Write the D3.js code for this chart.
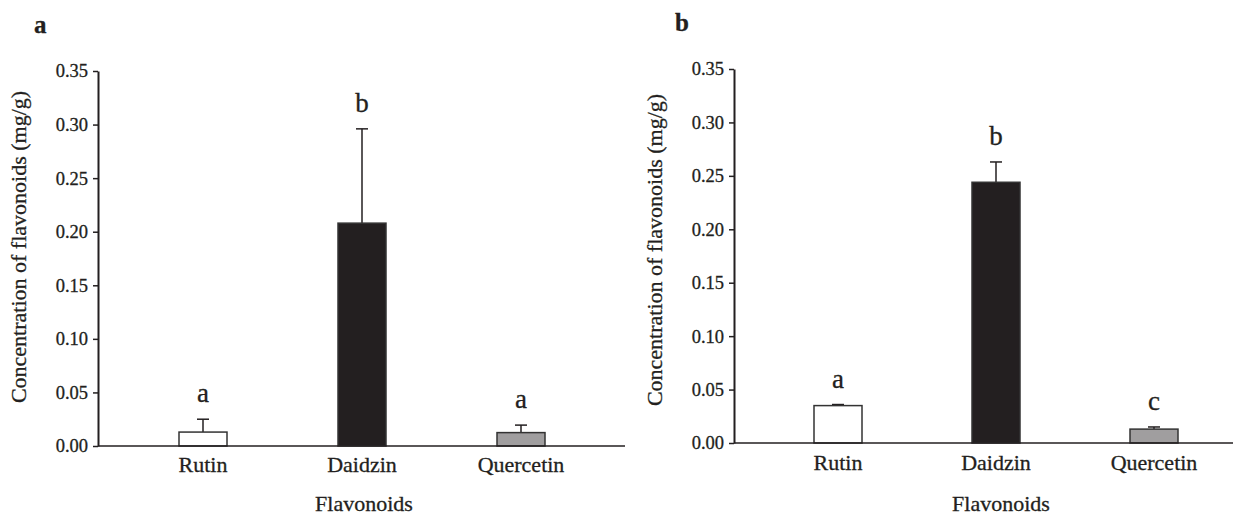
<!DOCTYPE html>
<html>
<head>
<meta charset="utf-8">
<script src="https://cdn.jsdelivr.net/npm/d3@7"></script>
<style>
  html, body { margin: 0; padding: 0; background: #fff; }
  svg { display: block; }
  text { font-family: "Liberation Serif", "Times New Roman", serif; fill: #231f20; stroke: #231f20; stroke-width: 0.3px; }
</style>
</head>
<body>
<svg id="chart" width="1248" height="515"></svg>
<script>
// ---- data ----
const categories = ["Rutin", "Daidzin", "Quercetin"];
const valuesA = [0.013, 0.208, 0.0125];
const errorsA = [0.012, 0.088, 0.007];
const lettersA = ["a", "b", "a"];
const valuesB = [0.035, 0.244, 0.013];
const errorsB = [0.001, 0.019, 0.002];
const lettersB = ["a", "b", "c"];
const barColors = ["#ffffff", "#231f20", "#a09e9f"];
const yTicks = [0, 0.05, 0.10, 0.15, 0.20, 0.25, 0.30, 0.35];
const yTitle = "Concentration of flavonoids (mg/g)";
const xTitle = "Flavonoids";
const panelLabels = ["a", "b"];

const svg = d3.select("#chart");

function panel(opts) {
  const g = svg.append("g");
  const y = d3.scaleLinear().domain([0, 0.35]).range([opts.y0, opts.y1]);
  const x = d3.scalePoint().domain(categories).range([opts.c0, opts.c1]).padding(0);
  const bw = 48;

  opts.values.forEach((v, i) => {
    const cx = x(categories[i]);
    const top = y(v);
    const errTop = y(v + opts.errors[i]);
    g.append("line")
      .attr("x1", cx).attr("x2", cx)
      .attr("y1", top).attr("y2", errTop)
      .attr("stroke", "#231f20").attr("stroke-width", 1.5);
    g.append("line")
      .attr("x1", cx - 6).attr("x2", cx + 6)
      .attr("y1", errTop).attr("y2", errTop)
      .attr("stroke", "#231f20").attr("stroke-width", 1.5);
    g.append("rect")
      .attr("x", cx - bw / 2).attr("y", top)
      .attr("width", bw).attr("height", y(0) - top)
      .attr("fill", barColors[i])
      .attr("stroke", "#333").attr("stroke-width", 1.5);
    g.append("text")
      .attr("x", cx).attr("y", errTop - 17)
      .attr("text-anchor", "middle")
      .attr("font-size", 27)
      .text(opts.letters[i]);
    g.append("text")
      .attr("x", cx).attr("y", opts.catY)
      .attr("text-anchor", "middle")
      .attr("font-size", 22)
      .text(categories[i]);
  });

  g.append("line")
    .attr("x1", opts.ax).attr("x2", opts.xEnd)
    .attr("y1", y(0)).attr("y2", y(0))
    .attr("stroke", "#231f20").attr("stroke-width", 1.6);

  const axis = d3.axisLeft(y).tickValues(yTicks).tickFormat(d3.format(".2f"))
    .tickSize(5).tickSizeOuter(0).tickPadding(5);
  const ag = g.append("g").attr("transform", `translate(${opts.ax},0)`).call(axis);
  ag.select(".domain").attr("stroke", "#231f20").attr("stroke-width", 2);
  ag.selectAll(".tick line").attr("stroke", "#231f20").attr("stroke-width", 1.5);
  ag.selectAll(".tick text")
    .attr("font-size", 18.5).attr("fill", "#231f20");

  g.append("text")
    .attr("transform", `translate(${opts.ytX},${opts.ytY}) rotate(-90)`)
    .attr("text-anchor", "middle")
    .attr("font-size", 22)
    .text(yTitle);

  g.append("text")
    .attr("x", opts.xtX).attr("y", 511)
    .attr("text-anchor", "middle")
    .attr("font-size", 22)
    .text(xTitle);

  g.append("text")
    .attr("x", opts.plX).attr("y", opts.plY)
    .attr("font-size", 25).attr("font-weight", "bold")
    .text(opts.label);
}

panel({
  values: valuesA, errors: errorsA, letters: lettersA, label: panelLabels[0],
  ax: 98, y0: 446, y1: 71, c0: 203, c1: 521, xEnd: 625, catY: 472,
  ytX: 26, ytY: 247, xtX: 364, plX: 34, plY: 33
});
panel({
  values: valuesB, errors: errorsB, letters: lettersB, label: panelLabels[1],
  ax: 734, y0: 443, y1: 69, c0: 838, c1: 1154, xEnd: 1233, catY: 470,
  ytX: 662, ytY: 250, xtX: 1001, plX: 675, plY: 31
});
</script>
</body>
</html>
